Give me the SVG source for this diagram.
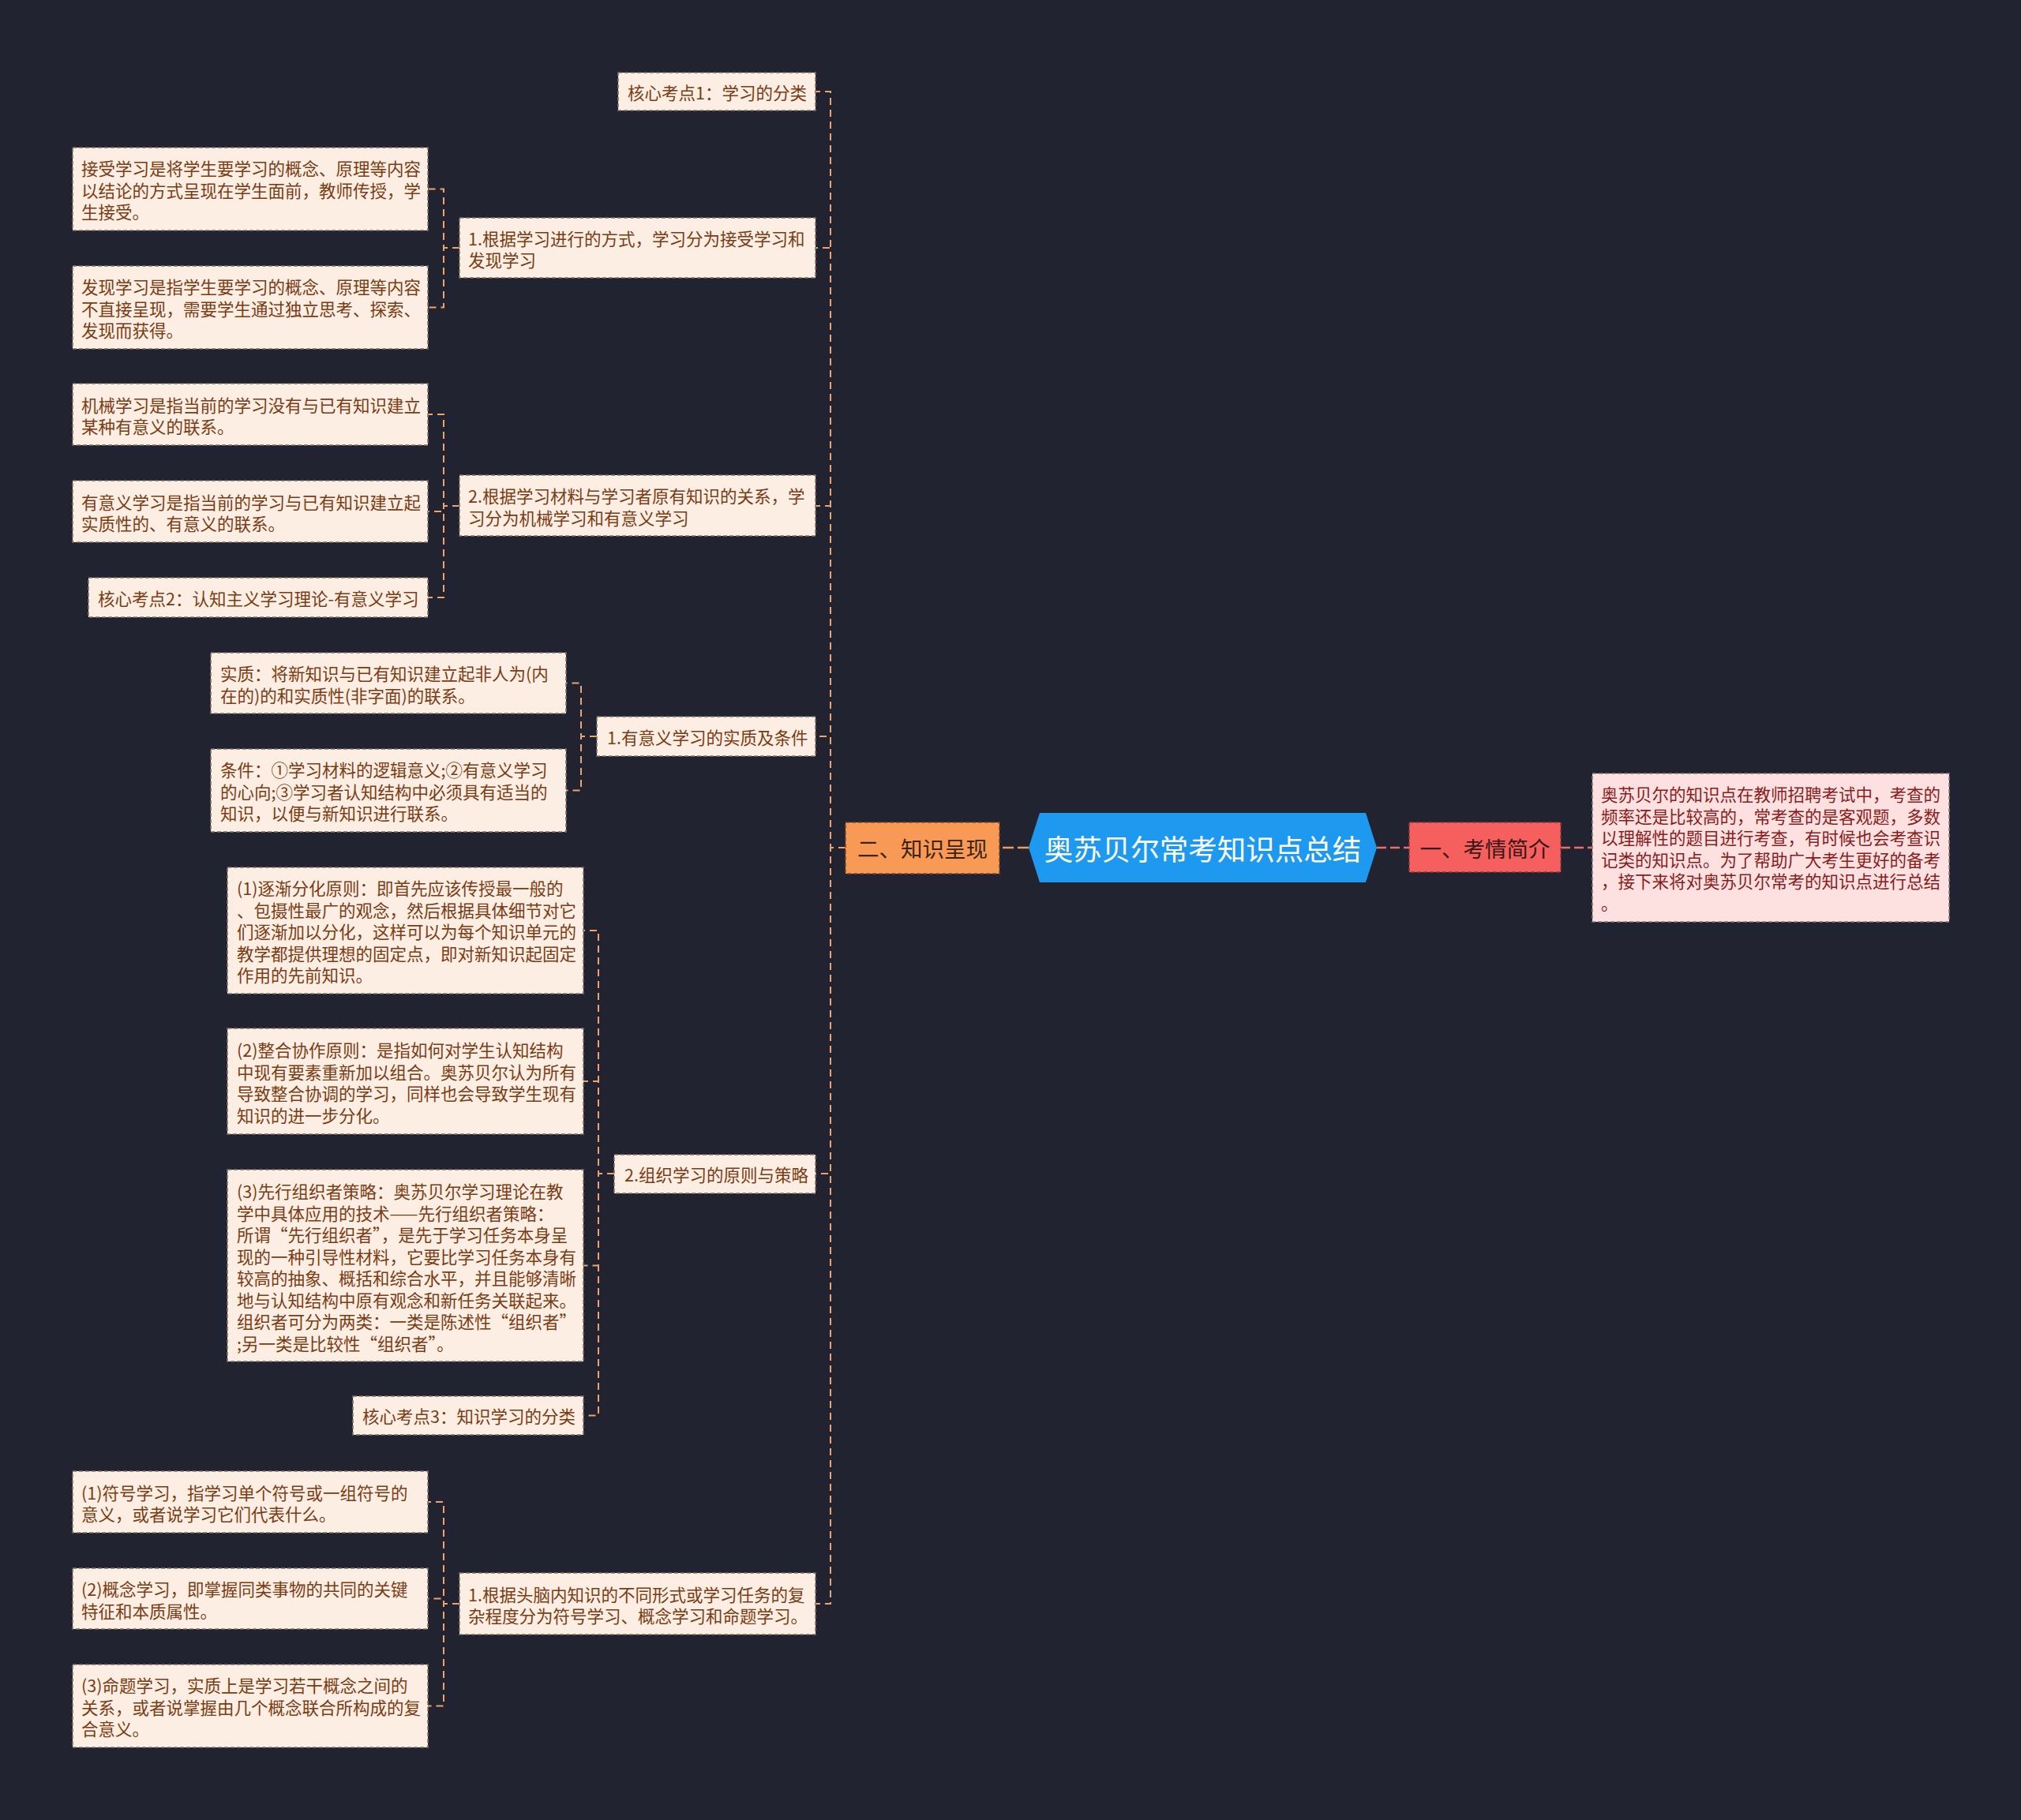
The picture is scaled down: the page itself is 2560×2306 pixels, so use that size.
<svg xmlns="http://www.w3.org/2000/svg" width="2560" height="2306" viewBox="0 0 2560 2306">
<style>
.bg{fill:#212430}
.box{fill:#fdeee3;stroke:#7f726a;stroke-width:1.6;stroke-dasharray:5,3}
.t{font-family:"Noto Sans CJK SC","Noto Sans",sans-serif;font-size:21.5px;fill:#7a3c14;dominant-baseline:central}
.c{fill:none;stroke:#f0a26c;stroke-width:2;stroke-dasharray:9,6}
.cr{fill:none;stroke:#ee6b68;stroke-width:2.5;stroke-dasharray:12,5}
.co{fill:none;stroke:#f39a58;stroke-width:2.5;stroke-dasharray:14,5}
</style>
<rect class="bg" x="0" y="0" width="2560" height="2306"/>
<g id="connectors">
<path class="cr" d="M1744,1074 H1785"/>
<path class="cr" d="M1977,1074 H2016"/>
<path class="co" d="M1303,1074 H1266"/>
<path class="c" d="M1071,1074 H1052 V116 H1033"/>
<path class="c" d="M1071,1074 H1052 V314 H1033"/>
<path class="c" d="M1071,1074 H1052 V641 H1033"/>
<path class="c" d="M1071,1074 H1052 V933 H1033"/>
<path class="c" d="M1071,1074 H1052 V1487 H1033"/>
<path class="c" d="M1071,1074 H1052 V2032 H1033"/>
<path class="c" d="M582,314 H562 V239.5 H542"/>
<path class="c" d="M582,314 H562 V389.5 H542"/>
<path class="c" d="M582,641 H562 V525 H542"/>
<path class="c" d="M582,641 H562 V648 H542"/>
<path class="c" d="M582,641 H562 V757 H542"/>
<path class="c" d="M756,933 H736 V865.5 H717"/>
<path class="c" d="M756,933 H736 V1001.5 H717"/>
<path class="c" d="M778,1487 H758 V1179 H739"/>
<path class="c" d="M778,1487 H758 V1370 H739"/>
<path class="c" d="M778,1487 H758 V1603.5 H739"/>
<path class="c" d="M778,1487 H758 V1793.5 H739"/>
<path class="c" d="M582,2032 H562 V1903 H542"/>
<path class="c" d="M582,2032 H562 V2025.5 H542"/>
<path class="c" d="M582,2032 H562 V2161.5 H542"/>
</g>
<g id="root">
<polygon points="1303,1074 1317,1030 1730,1030 1744,1074 1730,1118 1317,1118" fill="#1d99ef"/>
<text x="1523.5" y="1074" text-anchor="middle" style="font-family:'Noto Sans CJK SC',sans-serif;font-size:36.5px;fill:#ffffff;dominant-baseline:central">奥苏贝尔常考知识点总结</text>
</g>
<g id="n-kaoqing">
<rect x="1785" y="1042" width="192" height="63" fill="#f5605f" stroke="#8a3a3a" stroke-width="1.6" stroke-dasharray="5,3"/>
<text x="1881" y="1074" text-anchor="middle" style="font-family:'Noto Sans CJK SC',sans-serif;font-size:27.5px;fill:#3a1616;dominant-baseline:central">一、考情简介</text>
</g>
<g id="n-desc">
<rect x="2017" y="980" width="452" height="188" fill="#fde1e1" stroke="#8c7a7a" stroke-width="1.6" stroke-dasharray="5,3"/>
<text style="font-family:'Noto Sans CJK SC',sans-serif;font-size:21.5px;fill:#8a1c1c;dominant-baseline:central">
<tspan x="2028" y="1005">奥苏贝尔的知识点在教师招聘考试中，考查的</tspan>
<tspan x="2028" y="1032.5">频率还是比较高的，常考查的是客观题，多数</tspan>
<tspan x="2028" y="1060">以理解性的题目进行考查，有时候也会考查识</tspan>
<tspan x="2028" y="1087.5">记类的知识点。为了帮助广大考生更好的备考</tspan>
<tspan x="2028" y="1115">，接下来将对奥苏贝尔常考的知识点进行总结</tspan>
<tspan x="2028" y="1142.5">。</tspan>
</text>
</g>
<g id="n-zhishi">
<rect x="1071" y="1042" width="195" height="65" fill="#f89a55" stroke="#7a4a2a" stroke-width="1.6" stroke-dasharray="5,3"/>
<text x="1168.5" y="1074" text-anchor="middle" style="font-family:'Noto Sans CJK SC',sans-serif;font-size:27.5px;fill:#3a2412;dominant-baseline:central">二、知识呈现</text>
</g>
<g id="n-a">
<rect class="box" x="783" y="92" width="250" height="48"/>
<text class="t" x="795" y="116">核心考点1：学习的分类</text>
</g>
<g id="n-b">
<rect class="box" x="582" y="276" width="451" height="76"/>
<text class="t"><tspan x="593" y="300.5">1.根据学习进行的方式，学习分为接受学习和</tspan><tspan x="593" y="327.5">发现学习</tspan></text>
</g>
<g id="n-b1">
<rect class="box" x="92" y="187" width="450" height="105"/>
<text class="t"><tspan x="103" y="212">接受学习是将学生要学习的概念、原理等内容</tspan><tspan x="103" y="239.5">以结论的方式呈现在学生面前，教师传授，学</tspan><tspan x="103" y="267">生接受。</tspan></text>
</g>
<g id="n-b2">
<rect class="box" x="92" y="337" width="450" height="105"/>
<text class="t"><tspan x="103" y="362">发现学习是指学生要学习的概念、原理等内容</tspan><tspan x="103" y="389.5">不直接呈现，需要学生通过独立思考、探索、</tspan><tspan x="103" y="417">发现而获得。</tspan></text>
</g>
<g id="n-c">
<rect class="box" x="582" y="602" width="451" height="77"/>
<text class="t"><tspan x="593" y="627">2.根据学习材料与学习者原有知识的关系，学</tspan><tspan x="593" y="654.5">习分为机械学习和有意义学习</tspan></text>
</g>
<g id="n-c1">
<rect class="box" x="92" y="486" width="450" height="78"/>
<text class="t"><tspan x="103" y="511.5">机械学习是指当前的学习没有与已有知识建立</tspan><tspan x="103" y="539">某种有意义的联系。</tspan></text>
</g>
<g id="n-c2">
<rect class="box" x="92" y="609" width="450" height="78"/>
<text class="t"><tspan x="103" y="634.5">有意义学习是指当前的学习与已有知识建立起</tspan><tspan x="103" y="662">实质性的、有意义的联系。</tspan></text>
</g>
<g id="n-c3">
<rect class="box" x="112" y="732" width="430" height="50"/>
<text class="t" x="124" y="757">核心考点2：认知主义学习理论-有意义学习</text>
</g>
<g id="n-d">
<rect class="box" x="756" y="908" width="277" height="50"/>
<text class="t" x="769" y="933">1.有意义学习的实质及条件</text>
</g>
<g id="n-d1">
<rect class="box" x="267" y="827" width="450" height="77"/>
<text class="t"><tspan x="279" y="852">实质：将新知识与已有知识建立起非人为(内</tspan><tspan x="279" y="879.5">在的)的和实质性(非字面)的联系。</tspan></text>
</g>
<g id="n-d2">
<rect class="box" x="267" y="949" width="450" height="105"/>
<text class="t"><tspan x="279" y="974">条件：①学习材料的逻辑意义;②有意义学习</tspan><tspan x="279" y="1001.5">的心向;③学习者认知结构中必须具有适当的</tspan><tspan x="279" y="1029">知识，以便与新知识进行联系。</tspan></text>
</g>
<g id="n-e">
<rect class="box" x="778" y="1463" width="255" height="49"/>
<text class="t" x="791" y="1487.5">2.组织学习的原则与策略</text>
</g>
<g id="n-e1">
<rect class="box" x="288" y="1099" width="451" height="160"/>
<text class="t"><tspan x="300" y="1124">(1)逐渐分化原则：即首先应该传授最一般的</tspan><tspan x="300" y="1151.5">、包摄性最广的观念，然后根据具体细节对它</tspan><tspan x="300" y="1179">们逐渐加以分化，这样可以为每个知识单元的</tspan><tspan x="300" y="1206.5">教学都提供理想的固定点，即对新知识起固定</tspan><tspan x="300" y="1234">作用的先前知识。</tspan></text>
</g>
<g id="n-e2">
<rect class="box" x="288" y="1303" width="451" height="134"/>
<text class="t"><tspan x="300" y="1329">(2)整合协作原则：是指如何对学生认知结构</tspan><tspan x="300" y="1356.5">中现有要素重新加以组合。奥苏贝尔认为所有</tspan><tspan x="300" y="1384">导致整合协调的学习，同样也会导致学生现有</tspan><tspan x="300" y="1411.5">知识的进一步分化。</tspan></text>
</g>
<g id="n-e3">
<rect class="box" x="288" y="1482" width="451" height="243"/>
<text class="t"><tspan x="300" y="1508">(3)先行组织者策略：奥苏贝尔学习理论在教</tspan><tspan x="300" y="1535.5">学中具体应用的技术——先行组织者策略：</tspan><tspan x="300" y="1563">所谓“先行组织者”，是先于学习任务本身呈</tspan><tspan x="300" y="1590.5">现的一种引导性材料，它要比学习任务本身有</tspan><tspan x="300" y="1618">较高的抽象、概括和综合水平，并且能够清晰</tspan><tspan x="300" y="1645.5">地与认知结构中原有观念和新任务关联起来。</tspan><tspan x="300" y="1673">组织者可分为两类：一类是陈述性“组织者”</tspan><tspan x="300" y="1700.5">;另一类是比较性“组织者”。</tspan></text>
</g>
<g id="n-e4">
<rect class="box" x="447" y="1769" width="292" height="49"/>
<text class="t" x="459" y="1793.5">核心考点3：知识学习的分类</text>
</g>
<g id="n-f">
<rect class="box" x="582" y="1993" width="451" height="78"/>
<text class="t"><tspan x="593" y="2018.5">1.根据头脑内知识的不同形式或学习任务的复</tspan><tspan x="593" y="2046">杂程度分为符号学习、概念学习和命题学习。</tspan></text>
</g>
<g id="n-f1">
<rect class="box" x="92" y="1864" width="450" height="78"/>
<text class="t"><tspan x="103" y="1889.5">(1)符号学习，指学习单个符号或一组符号的</tspan><tspan x="103" y="1917">意义，或者说学习它们代表什么。</tspan></text>
</g>
<g id="n-f2">
<rect class="box" x="92" y="1987" width="450" height="77"/>
<text class="t"><tspan x="103" y="2012">(2)概念学习，即掌握同类事物的共同的关键</tspan><tspan x="103" y="2039.5">特征和本质属性。</tspan></text>
</g>
<g id="n-f3">
<rect class="box" x="92" y="2109" width="450" height="105"/>
<text class="t"><tspan x="103" y="2134">(3)命题学习，实质上是学习若干概念之间的</tspan><tspan x="103" y="2161.5">关系，或者说掌握由几个概念联合所构成的复</tspan><tspan x="103" y="2189">合意义。</tspan></text>
</g>
</svg>
